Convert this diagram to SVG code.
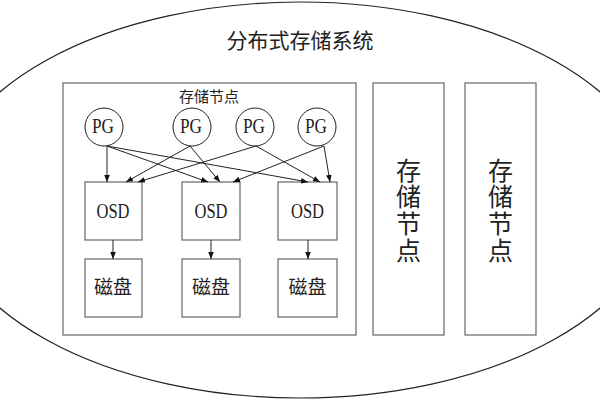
<svg xmlns="http://www.w3.org/2000/svg" width="600" height="400" viewBox="0 0 600 400">
<defs>
<marker id="ah" viewBox="0 0 10 10" refX="10" refY="5" markerWidth="7" markerHeight="7" markerUnits="userSpaceOnUse" orient="auto">
<path d="M0,1 L10,5 L0,9 z" fill="#111"/>
</marker>
<style>
.box{fill:#fff;stroke:#666;stroke-width:1.2}
.pg{fill:#fff;stroke:#222;stroke-width:1}
.lat{font-family:"Liberation Serif","Times New Roman",serif;fill:#222;text-anchor:middle}
.cjk{font-family:"Liberation Serif","Noto Sans CJK SC",serif;fill:#222;text-anchor:middle}
.con line{stroke:#222;stroke-width:1;marker-end:url(#ah)}
</style>
</defs>
<rect width="600" height="400" fill="#fff"/>
<g id="system">
<ellipse cx="300" cy="200" rx="358" ry="198" fill="#fff" stroke="#222" stroke-width="1.2"/>
<text class="cjk" x="300" y="48" font-size="21">分布式存储系统</text>
</g>
<g id="node-main">
<rect class="box" x="63" y="83" width="293" height="252"/>
<text class="cjk" x="209" y="102" font-size="15">存储节点</text>
</g>
<g id="node-2">
<rect class="box" x="373" y="83" width="71" height="252"/>
<text class="cjk" x="408.5" font-size="25"><tspan x="408.5" y="180">存</tspan><tspan x="408.5" y="206">储</tspan><tspan x="408.5" y="233">节</tspan><tspan x="408.5" y="260">点</tspan></text>
</g>
<g id="node-3">
<rect class="box" x="465" y="83" width="71" height="252"/>
<text class="cjk" x="500.5" font-size="25"><tspan x="500.5" y="180">存</tspan><tspan x="500.5" y="206">储</tspan><tspan x="500.5" y="233">节</tspan><tspan x="500.5" y="260">点</tspan></text>
</g>
<g id="pg1"><circle class="pg" cx="104" cy="127" r="19"/><text class="lat" x="103" y="133" font-size="20" textLength="22" lengthAdjust="spacingAndGlyphs">PG</text></g>
<g id="pg2"><circle class="pg" cx="192" cy="127" r="19"/><text class="lat" x="191" y="133" font-size="20" textLength="22" lengthAdjust="spacingAndGlyphs">PG</text></g>
<g id="pg3"><circle class="pg" cx="255" cy="127" r="19"/><text class="lat" x="254" y="133" font-size="20" textLength="22" lengthAdjust="spacingAndGlyphs">PG</text></g>
<g id="pg4"><circle class="pg" cx="317" cy="127" r="19"/><text class="lat" x="316" y="133" font-size="20" textLength="22" lengthAdjust="spacingAndGlyphs">PG</text></g>
<g id="osd1"><rect class="box" x="85" y="182" width="57" height="58"/><text class="lat" x="113" y="218" font-size="22" textLength="33" lengthAdjust="spacingAndGlyphs">OSD</text></g>
<g id="osd2"><rect class="box" x="182" y="182" width="58" height="58"/><text class="lat" x="211" y="218" font-size="22" textLength="33" lengthAdjust="spacingAndGlyphs">OSD</text></g>
<g id="osd3"><rect class="box" x="278" y="182" width="59" height="58"/><text class="lat" x="307.5" y="218" font-size="22" textLength="33" lengthAdjust="spacingAndGlyphs">OSD</text></g>
<g id="disk1"><rect class="box" x="85" y="259" width="57" height="58"/><text class="cjk" x="113" y="294" font-size="19">磁盘</text></g>
<g id="disk2"><rect class="box" x="182" y="259" width="58" height="58"/><text class="cjk" x="211" y="294" font-size="19">磁盘</text></g>
<g id="disk3"><rect class="box" x="278" y="259" width="59" height="58"/><text class="cjk" x="307.5" y="294" font-size="19">磁盘</text></g>
<g id="connectors" class="con">
<line x1="107" y1="146" x2="107" y2="182"/>
<line x1="107" y1="146" x2="208" y2="182"/>
<line x1="107" y1="146" x2="308" y2="182"/>
<line x1="190" y1="146" x2="126" y2="182"/>
<line x1="190" y1="146" x2="220" y2="182"/>
<line x1="256" y1="146" x2="138" y2="182"/>
<line x1="256" y1="146" x2="320" y2="182"/>
<line x1="324" y1="146" x2="233" y2="182"/>
<line x1="324" y1="146" x2="330" y2="182"/>
<line x1="113" y1="240" x2="113" y2="259"/>
<line x1="211" y1="240" x2="211" y2="259"/>
<line x1="308" y1="240" x2="308" y2="259"/>
</g>
</svg>
